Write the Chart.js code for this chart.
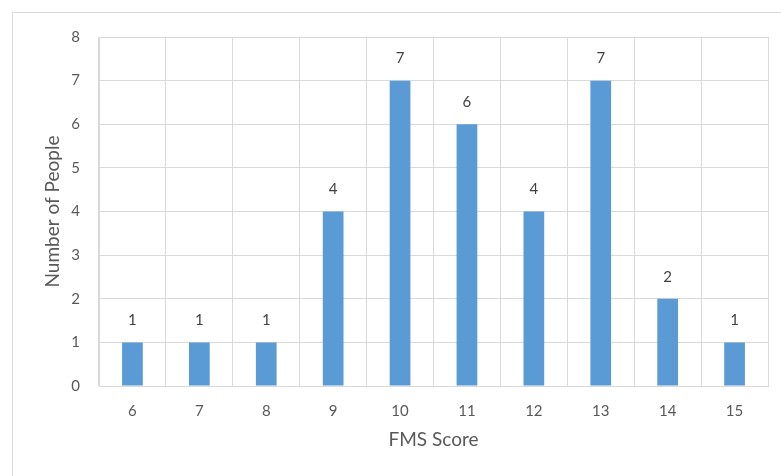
<!DOCTYPE html>
<html>
<head>
<meta charset="utf-8">
<script src="https://cdn.jsdelivr.net/npm/chart.js@4"></script>
<style>
  html, body { margin: 0; padding: 0; background: #fff; }
  #wrap { position: relative; width: 781px; height: 476px; overflow: hidden; }
  #frame { position: absolute; left: 12px; top: 12px; width: 800px; height: 500px; border: 1px solid #d9d9d9; box-sizing: border-box; }
  canvas { position: absolute; left: 0; top: 0; }
</style>
</head>
<body>
<div id="wrap">
  <div id="frame"></div>
  <canvas id="fmsChart" width="781" height="476"></canvas>
</div>
<script>
// FMS score distribution
const scores = ['6', '7', '8', '9', '10', '11', '12', '13', '14', '15'];
const people = [1, 1, 1, 4, 7, 6, 4, 7, 2, 1];
const yTicks = [0, 1, 2, 3, 4, 5, 6, 7, 8];

const textColor = '#595959';
const gridColor = '#d9d9d9';
const fontFamily = 'Lato, "Open Sans", sans-serif';

// draw the value above each bar
const valueLabels = {
    id: 'valueLabels',
    afterDatasetsDraw(chart) {
        const ctx = chart.ctx;
        const meta = chart.getDatasetMeta(0);
        ctx.save();
        ctx.fillStyle = '#404040';
        ctx.font = '15px ' + fontFamily;
        ctx.textAlign = 'center';
        ctx.textBaseline = 'middle';
        meta.data.forEach((bar, i) => {
            ctx.fillText(people[i], bar.x, bar.y - 22);
        });
        ctx.restore();
    }
};

new Chart(document.getElementById('fmsChart'), {
    type: 'bar',
    data: {
        labels: scores,
        datasets: [{
            data: people,
            backgroundColor: '#5b9bd5',
            borderWidth: 0,
            barPercentage: 0.31,
            categoryPercentage: 1
        }]
    },
    options: {
        responsive: false,
        animation: false,
        layout: { padding: { left: 0, right: 13, top: 37, bottom: 0 } },
        plugins: { legend: { display: false }, tooltip: { enabled: false } },
        scales: {
            x: {
                grid: { color: gridColor, drawTicks: false, offset: true },
                border: { color: gridColor },
                ticks: { color: textColor, font: { family: fontFamily, size: 15 }, padding: 16 },
                title: {
                    display: true, text: 'FMS Score', color: textColor,
                    font: { family: fontFamily, size: 19 },
                    padding: { top: 25, bottom: 25 }
                },
                afterFit(scale) { scale.height = 90; }
            },
            y: {
                min: 0, max: 8,
                afterBuildTicks(scale) { scale.ticks = yTicks.map(v => ({ value: v })); },
                grid: { color: gridColor, drawTicks: false },
                border: { color: gridColor },
                ticks: { color: textColor, font: { family: fontFamily, size: 15 }, padding: 19 },
                title: {
                    display: true, text: 'Number of People', color: textColor,
                    font: { family: fontFamily, size: 19 },
                    padding: { top: 41, bottom: 41 }
                },
                afterFit(scale) { scale.width = 99; }
            }
        }
    },
    plugins: [valueLabels]
});
</script>
</body>
</html>
